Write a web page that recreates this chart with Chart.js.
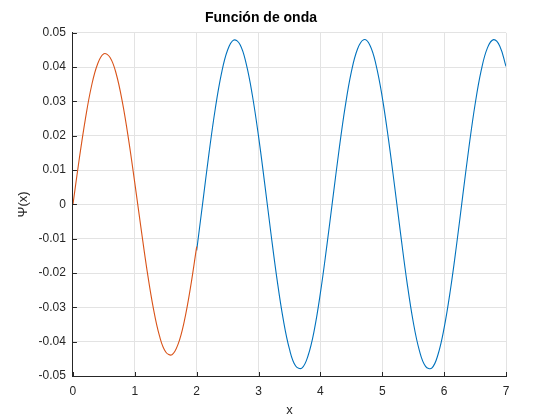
<!DOCTYPE html>
<html>
<head>
<meta charset="utf-8">
<script src="https://cdn.jsdelivr.net/npm/chart.js@4"></script>
<style>
  html, body { margin: 0; padding: 0; background: #ffffff; }
  #wrap { width: 560px; height: 420px; }
</style>
</head>
<body>
<div id="wrap"><canvas id="chartOnda" width="560" height="420"></canvas></div>
<script>
// valores
const xRojo = [0, 0.1, 0.2, 0.3, 0.4, 0.5, 0.6, 0.7, 0.8, 0.9, 1.0, 1.1, 1.2, 1.3, 1.4, 1.5, 1.6, 1.7, 1.8, 1.9, 2.0];
const psiRojo = [0, 0.0130, 0.0248, 0.0345, 0.0410, 0.0439, 0.0428, 0.0380, 0.0297, 0.0188, 0.0062,
  -0.0069, -0.0195, -0.0303, -0.0384, -0.0430, -0.0438, -0.0407, -0.0340, -0.0242, -0.0123];

const xAzul = [2.0, 2.1, 2.2, 2.3, 2.4, 2.5, 2.6, 2.7, 2.8, 2.9, 3.0, 3.1, 3.2, 3.3, 3.4, 3.5, 3.6, 3.7, 3.8, 3.9,
  4.0, 4.1, 4.2, 4.3, 4.4, 4.5, 4.6, 4.7, 4.8, 4.9, 5.0, 5.1, 5.2, 5.3, 5.4, 5.5, 5.6, 5.7, 5.8, 5.9,
  6.0, 6.1, 6.2, 6.3, 6.4, 6.5, 6.6, 6.7, 6.8, 6.9, 7.0];
const psiAzul = [-0.0134, 0.0008, 0.0150, 0.0278, 0.0381, 0.0450, 0.0479, 0.0466, 0.0410, 0.0318,
  0.0198, 0.0060, -0.0084, -0.0220, -0.0336, -0.0422, -0.0471, -0.0477, -0.0441, -0.0367,
  -0.0258, -0.0126, 0.0016, 0.0157, 0.0284, 0.0386, 0.0453, 0.0480, 0.0464, 0.0406,
  0.0312, 0.0190, 0.0052, -0.0091, -0.0227, -0.0342, -0.0426, -0.0472, -0.0477, -0.0438,
  -0.0360, -0.0251, -0.0119, 0.0024, 0.0165, 0.0291, 0.0391, 0.0456, 0.0480, 0.0461, 0.0402];

const xTicks = [0, 1, 2, 3, 4, 5, 6, 7];
const yTicks = [-0.05, -0.04, -0.03, -0.02, -0.01, 0, 0.01, 0.02, 0.03, 0.04, 0.05];

function puntos(xs, ys) {
  return xs.map((x, i) => ({ x: x, y: ys[i] }));
}

// marcas de los ejes hacia adentro (estilo MATLAB)
const marcasAdentro = {
  id: 'marcasAdentro',
  afterDatasetsDraw(chart) {
    const c = chart.ctx;
    const area = chart.chartArea;
    const sx = chart.scales.x, sy = chart.scales.y;
    c.save();
    c.strokeStyle = '#262626';
    c.lineWidth = 1;
    c.beginPath();
    xTicks.forEach(v => {
      const px = Math.round(sx.getPixelForValue(v)) + 0.5;
      c.moveTo(px, area.bottom);
      c.lineTo(px, area.bottom - 4);
    });
    yTicks.forEach(v => {
      const py = Math.round(sy.getPixelForValue(v)) + 0.5;
      c.moveTo(area.left, py);
      c.lineTo(area.left + 4, py);
    });
    c.stroke();
    c.restore();
  }
};

const ctx = document.getElementById('chartOnda').getContext('2d');
const fuente = "'Liberation Sans', Arial, Helvetica, sans-serif";

new Chart(ctx, {
  type: 'scatter',
  data: {
    datasets: [{
      data: puntos(xRojo, psiRojo),
      showLine: true,
      borderColor: '#D95319',
      borderWidth: 1.1,
      pointRadius: 0,
      tension: 0.4
    }, {
      data: puntos(xAzul, psiAzul),
      showLine: true,
      borderColor: '#0072BD',
      borderWidth: 1.1,
      pointRadius: 0,
      tension: 0.4
    }]
  },
  plugins: [marcasAdentro],
  options: {
    responsive: false,
    animation: false,
    layout: { padding: { left: 16, right: 54, top: 0, bottom: 2 } },
    plugins: {
      legend: { display: false },
      tooltip: { enabled: false },
      title: {
        display: true,
        text: 'Función de onda',
        color: '#000000',
        font: { family: fuente, size: 14, weight: 'bold' },
        padding: { top: 10, bottom: 6 }
      }
    },
    scales: {
      x: {
        type: 'linear',
        min: 0,
        max: 7,
        afterBuildTicks: axis => { axis.ticks = xTicks.map(v => ({ value: v })); },
        ticks: {
          color: '#262626',
          font: { family: fuente, size: 12 },
          padding: 8,
          maxRotation: 0
        },
        grid: { color: '#e3e3e3', drawTicks: false },
        border: { color: '#262626', width: 1 },
        title: {
          display: true,
          text: 'x',
          color: '#262626',
          font: { family: fuente, size: 13 },
          padding: { top: -4, bottom: 0 }
        }
      },
      y: {
        type: 'linear',
        min: -0.05,
        max: 0.05,
        afterBuildTicks: axis => { axis.ticks = yTicks.map(v => ({ value: v })); },
        ticks: {
          color: '#262626',
          font: { family: fuente, size: 12 },
          padding: 7,
          callback: v => String(Math.round(v * 100) / 100)
        },
        grid: { color: '#e3e3e3', drawTicks: false },
        border: { color: '#262626', width: 1 },
        title: {
          display: true,
          text: 'Ψ(x)',
          color: '#262626',
          font: { family: fuente, size: 13 },
          padding: { top: 0, bottom: 0 }
        }
      }
    }
  }
});
</script>
</body>
</html>
